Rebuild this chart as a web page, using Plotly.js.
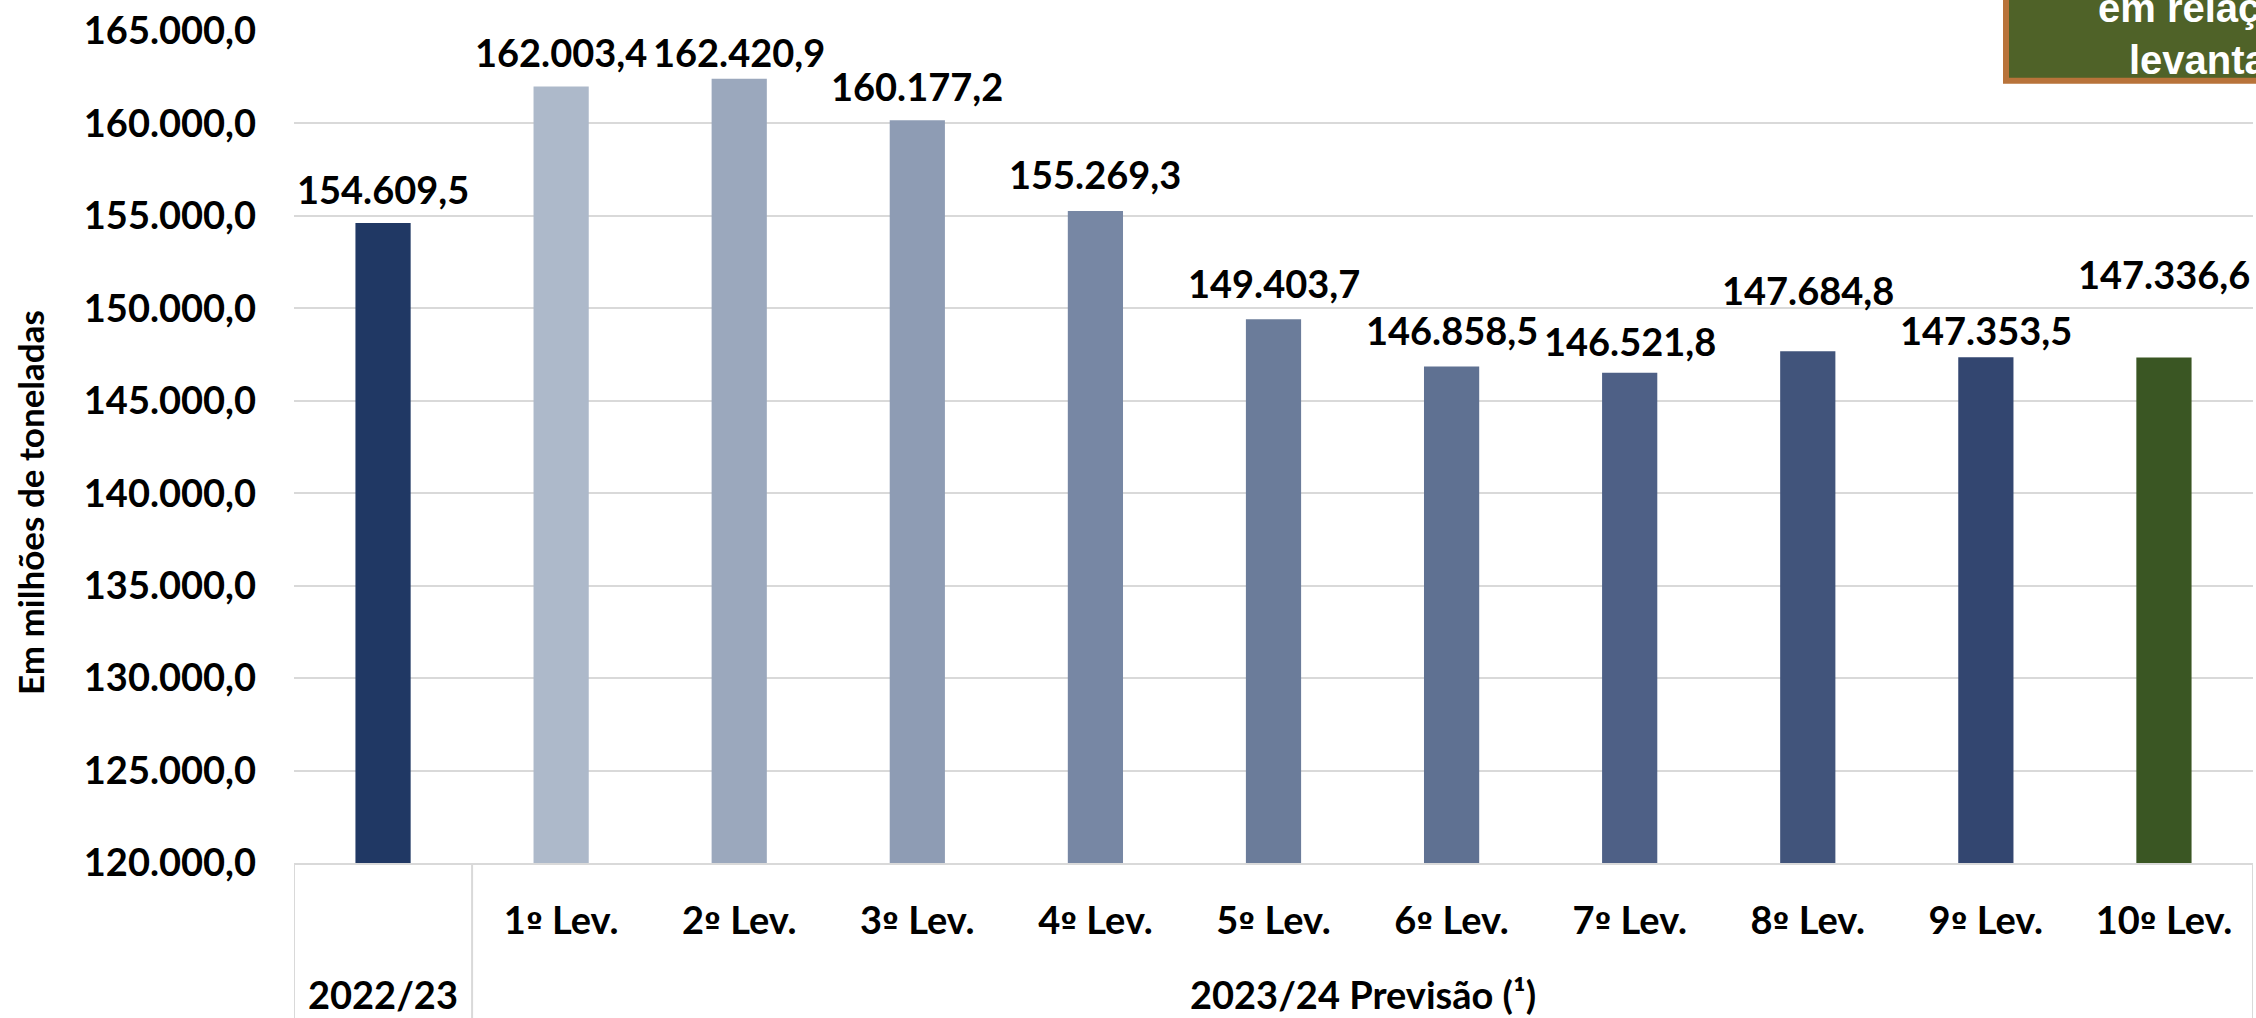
<!DOCTYPE html>
<html><head><meta charset="utf-8">
<script src="https://cdn.plot.ly/plotly-3.0.1.min.js"></script>
<style>html,body{margin:0;padding:0;background:#fff;overflow:hidden}</style>
</head><body><div id="chart" style="width:2256px;height:1018px"></div>
<script>
// ---- data ----
const categories = ["2022/23","1º Lev.","2º Lev.","3º Lev.","4º Lev.","5º Lev.","6º Lev.","7º Lev.","8º Lev.","9º Lev.","10º Lev."];
const tickLabels = ["","1º Lev.","2º Lev.","3º Lev.","4º Lev.","5º Lev.","6º Lev.","7º Lev.","8º Lev.","9º Lev.","10º Lev."];
const categoryGroup = ["2022/23","2023/24 Previsão (¹)","2023/24 Previsão (¹)","2023/24 Previsão (¹)","2023/24 Previsão (¹)","2023/24 Previsão (¹)","2023/24 Previsão (¹)","2023/24 Previsão (¹)","2023/24 Previsão (¹)","2023/24 Previsão (¹)","2023/24 Previsão (¹)"];
const production = [154609.5,162003.4,162420.9,160177.2,155269.3,149403.7,146858.5,146521.8,147684.8,147353.5,147336.6];
const yAxisTitle = "Em milhões de toneladas";
const boxLines = ["em relação ao","levantamento anterior"];

// ---- styles ----
const barColors = ["#203864","#adb9ca","#9ba8bd","#8e9cb4","#7787a4","#6b7c9a","#5f7192","#4e6086","#41547b","#334670","#3a5623"];
const labelLift = [34,34.5,27,34.5,36.5,36.5,36,32,61,27,84];
const FONT = "Lato, 'Open Sans', sans-serif";
const GRID = "#d9d9d9";
const FS = 38;

function fmt(v){
  const s = v.toFixed(1).split('.');
  return s[0].replace(/\B(?=(\d{3})+(?!\d))/g,'.') + ',' + s[1];
}
function ordinal(t){
  return t.replace(/º/g, '<span style="font-family:\'DejaVu Sans\';font-size:30px">º</span>');
}

const W = 2256, H = 1018;
const M = {l:294, r:3, t:31, b:155};
const plotW = W - M.l - M.r, plotH = H - M.t - M.b;
const pxX = px => (px - M.l) / plotW;
const pxY = py => (H - M.b - py) / plotH;

const trace = {
  type:'bar',
  x: categories.map((c,i)=>i),
  y: production,
  marker:{color: barColors, line:{width:0}},
  hoverinfo:'skip'
};

const annotations = [];
production.forEach((v,i)=>{
  annotations.push({
    xref:'x', yref:'y', x:i, y:v, text: fmt(v),
    showarrow:false, xanchor:'center', yanchor:'middle', yshift: labelLift[i],
    font:{family:FONT, size:FS, color:'#000', weight:700}
  });
});

// group labels and dividers derived from categoryGroup
const shapes = [];
let start = 0;
for (let i=1;i<=categoryGroup.length;i++){
  if (i===categoryGroup.length || categoryGroup[i]!==categoryGroup[start]){
    const end = i-1;
    annotations.push({
      xref:'x', yref:'paper', x:(start+end)/2, y:pxY(994), text: categoryGroup[start],
      showarrow:false, xanchor:'center', yanchor:'middle',
      font:{family:FONT, size:FS, color:'#000', weight:700}
    });
    shapes.push({type:'line', xref:'x', yref:'paper', x0:start-0.5, x1:start-0.5, y0:0, y1:pxY(1020), line:{color:GRID, width:2}});
    if (i===categoryGroup.length){
      shapes.push({type:'line', xref:'x', yref:'paper', x0:end+0.5, x1:end+0.5, y0:0, y1:pxY(1020), line:{color:GRID, width:2}});
    }
    start = i;
  }
}

// y axis title
annotations.push({
  xref:'paper', yref:'paper', x:0, xshift:30-M.l, y:pxY(503), text: yAxisTitle, textangle:-90,
  showarrow:false, xanchor:'center', yanchor:'middle',
  font:{family:FONT, size:35, color:'#000', weight:700}
});

// corner box
shapes.push({type:'rect', xref:'paper', yref:'paper', x0:pxX(2006), x1:pxX(2300), y0:pxY(80.8), y1:pxY(-40),
  fillcolor:'#4F6228', line:{color:'#B8733A', width:6}, layer:'above'});
annotations.push({xref:'paper', yref:'paper', x:pxX(2096), y:pxY(7.8), text:boxLines[0], showarrow:false,
  xanchor:'left', yanchor:'middle', font:{family:"'Liberation Sans', Arial, sans-serif", size:40, color:'#fff', weight:700}});
annotations.push({xref:'paper', yref:'paper', x:pxX(2127), y:pxY(60.1), text:boxLines[1], showarrow:false,
  xanchor:'left', yanchor:'middle', font:{family:"'Liberation Sans', Arial, sans-serif", size:40, color:'#fff', weight:700}});

const layout = {
  width:W, height:H, margin:M, paper_bgcolor:'#fff', plot_bgcolor:'#fff',
  separators:',.', showlegend:false, bargap:0.69,
  font:{family:FONT, color:'#000'},
  xaxis:{type:'linear', range:[-0.5, categories.length-0.5], tickvals: categories.map((c,i)=>i), ticktext: tickLabels.map(ordinal),
    showgrid:false, zeroline:false, showline:true, linecolor:GRID, linewidth:2, ticks:'',
    ticklabelstandoff:23, tickfont:{family:FONT, size:FS, color:'#000', weight:700}, fixedrange:true},
  yaxis:{range:[120000,165000], dtick:5000, tick0:120000, tickformat:',.1f', showgrid:true, gridcolor:GRID, gridwidth:2,
    zeroline:false, showline:false, ticks:'', ticklabelstandoff:37,
    tickfont:{family:FONT, size:FS, color:'#000', weight:700}, fixedrange:true},
  annotations, shapes
};

Plotly.newPlot('chart', [trace], layout, {displayModeBar:false, staticPlot:true});
</script></body></html>
